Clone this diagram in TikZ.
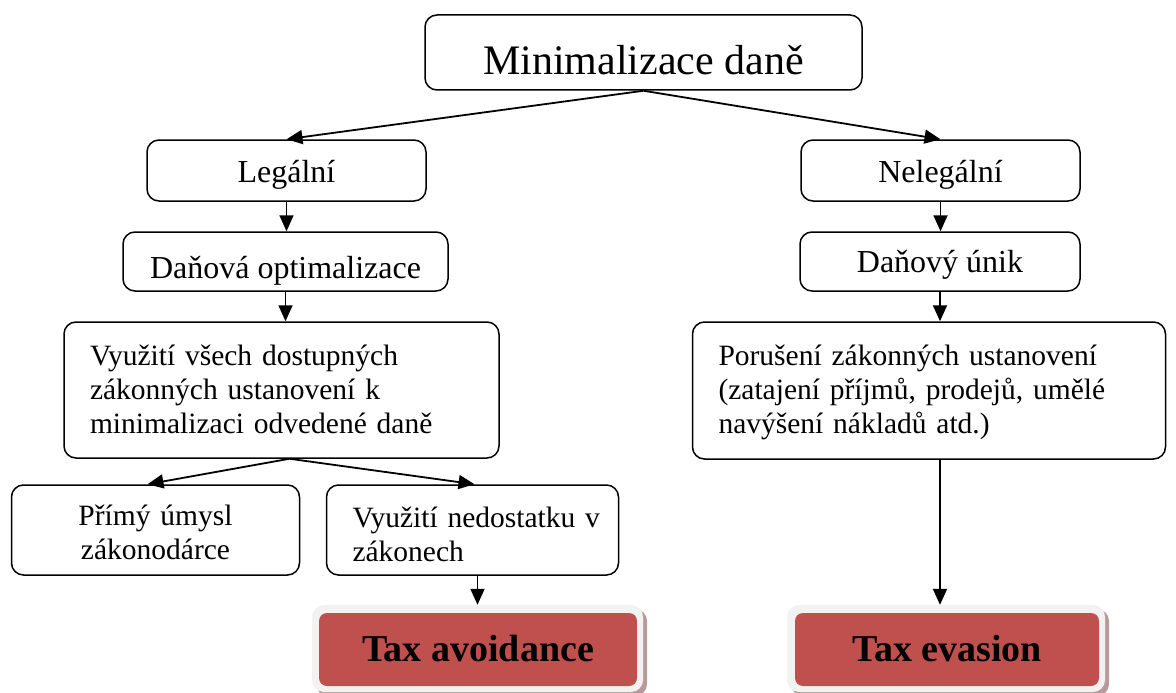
\documentclass[tikz,border=0pt]{standalone}
\usepackage{fontspec}
\setmainfont{Liberation Serif}
\usetikzlibrary{arrows.meta}
\definecolor{taxred}{HTML}{C0504D}
\definecolor{taxframe}{HTML}{F2F2F2}
\definecolor{taxshadow}{HTML}{B89A9A}
\begin{document}
\begin{tikzpicture}[x=1pt,y=-1pt,
  box/.style={draw, line width=1.5pt, rounded corners=12pt, inner sep=0pt, text depth=0pt},
  sbox/.style={box, align=center, font=\fontsize{32}{34}\selectfont},
  lbox/.style={box, align=left, inner xsep=26pt, text height=0pt, font=\fontsize{29.5}{34}\selectfont},
  mbox/.style={box, align=center, inner xsep=14pt, text height=0pt, font=\fontsize{29.5}{34}\selectfont},
  arr/.style={-{Triangle[length=16pt,width=14pt]}, line width=1.8pt},
  taxshad/.style={fill=taxshadow, rounded corners=12pt, inner sep=0pt},
  taxout/.style={fill=taxframe, rounded corners=12pt, inner sep=0pt},
  taxin/.style={fill=taxred, rounded corners=8pt, inner sep=0pt, text height=23pt, text depth=0pt,
    font=\fontsize{38}{42}\selectfont\bfseries},
]
\useasboundingbox (0,0) rectangle (1176,693);

\node[sbox, minimum width=437pt, minimum height=75pt, text height=45pt, font=\fontsize{42}{46}\selectfont] (top) at (643.5,52.5) {Minimalizace daně};

\node[sbox, minimum width=279pt, minimum height=61pt, text height=23pt] (leg) at (286.5,170.5) {Legální};
\node[sbox, minimum width=279pt, minimum height=61pt, text height=23pt] (neleg) at (940.5,170.5) {Nelegální};

\node[sbox, minimum width=325pt, minimum height=59pt, text height=33pt] (opt) at (285.5,261.5) {Daňová optimalizace};
\node[sbox, minimum width=280pt, minimum height=59pt, text height=21pt] (dun) at (940,261.5) {Daňový únik};

\node[lbox, minimum width=435pt, minimum height=136pt, text width=383pt, text depth=50pt] (vyu) at (281.5,390)
  {Využití všech dostupných\\zákonných ustanovení k\\minimalizaci odvedené daně};
\node[lbox, minimum width=472pt, minimum height=137pt, text width=421pt, text depth=51pt] (por) at (929,390.5)
  {Porušení zákonných ustanovení\\(zatajení příjmů, prodejů, umělé\\navýšení nákladů atd.)};

\node[mbox, minimum width=288pt, minimum height=90pt, text width=260pt, text depth=10pt] (pri) at (155.5,530)
  {Přímý úmysl\\zákonodárce};
\node[lbox, minimum width=292pt, minimum height=90pt, text width=240pt, text depth=6pt] (ned) at (472.5,530)
  {\mbox{Využití nedostatku v}\\zákonech};

% Tax avoidance
\node[taxshad, minimum width=331pt, minimum height=87pt] (tavs) at (481.5,652.5) {};
\node[taxout, minimum width=331pt, minimum height=87pt] (tavo) at (477.5,648.5) {};
\node[taxin, minimum width=318pt, minimum height=73pt] (tav) at (478,649.5) {Tax avoidance};

% Tax evasion
\node[taxshad, minimum width=318pt, minimum height=87pt] (tevs) at (950,652.5) {};
\node[taxout, minimum width=318pt, minimum height=87pt] (tevo) at (946,648.5) {};
\node[taxin, minimum width=304pt, minimum height=73pt] (tev) at (947,649.5) {Tax evasion};

% connectors
\draw[arr] (top.south) -- (leg.north);
\draw[arr] (top.south) -- (neleg.north);
\draw[arr] (leg.south) -- (opt.north -| leg.south);
\draw[arr] (opt.south) -- (vyu.north -| opt.south);
\draw[arr] (neleg.south) -- (dun.north -| neleg.south);
\draw[arr] (dun.south) -- (por.north -| dun.south);
\draw[arr] ([xshift=8pt]vyu.south) -- ([xshift=-8pt]pri.north);
\draw[arr] ([xshift=8pt]vyu.south) -- ([xshift=2pt]ned.north);
\draw[arr] (ned.south -| tavo.north) -- (tavo.north);
\draw[arr] (por.south -| dun.south) -- (tevo.north -| dun.south);
\end{tikzpicture}
\end{document}
